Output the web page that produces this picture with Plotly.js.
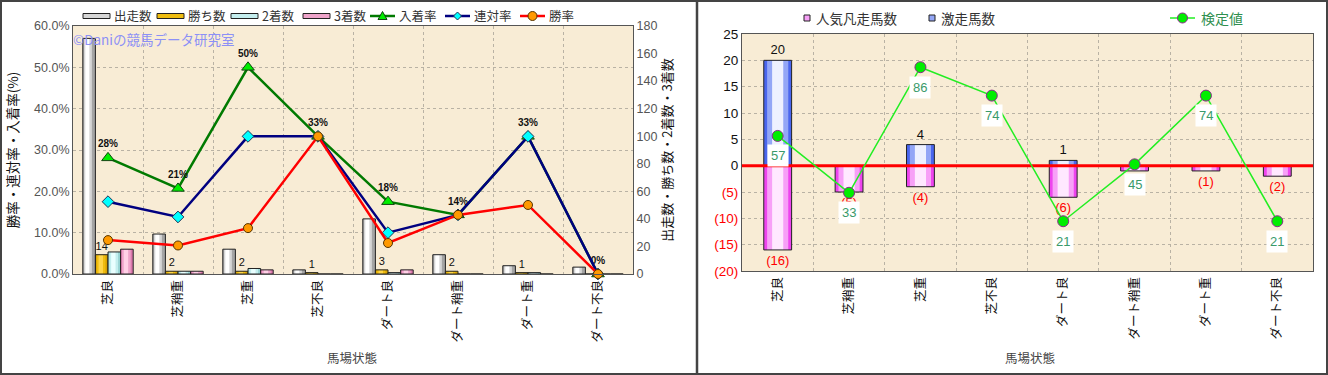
<!DOCTYPE html>
<html><head><meta charset="utf-8">
<script src="https://cdn.plot.ly/plotly-3.0.1.min.js"></script>
<style>html,body{margin:0;padding:0;background:#fff;} #chart{width:1328px;height:375px;}</style>
</head><body><div id="chart"></div>
<script>
// ---------- data ----------
const categories = ['芝良','芝稍重','芝重','芝不良','ダート良','ダート稍重','ダート重','ダート不良'];
const seriesNames = ['出走数','勝ち数','2着数','3着数','入着率','連対率','勝率'];
const starts  = [171, 29, 18, 3, 40, 14, 6, 5];
const wins    = [14, 2, 2, 1, 3, 2, 1, 0];
const seconds = [16, 2, 4, 0, 1, 0, 1, 0];
const thirds  = [18, 2, 3, 0, 3, 0, 0, 0];
const placeRate  = [28.1, 20.7, 50.0, 33.3, 17.5, 14.3, 33.3, 0];
const rentaiRate = [17.5, 13.8, 33.3, 33.3, 10.0, 14.3, 33.3, 0];
const winRate    = [8.2, 6.9, 11.1, 33.3, 7.5, 14.3, 16.7, 0];
const pctTicks   = [0, 10, 20, 30, 40, 50, 60];
const countTicks = [0, 20, 40, 60, 80, 100, 120, 140, 160, 180];

const rightNames   = ['人気凡走馬数','激走馬数','検定値'];
const upsetCounts  = [20, 0, 4, 0, 1, 0, 0, 0];
const failCounts   = [-16, -5, -4, 0, -6, -1, -1, -2];
const testValues   = [57, 33, 86, 74, 21, 45, 74, 21];
const rightTicks   = [-20, -15, -10, -5, 0, 5, 10, 15, 20, 25];

const leftXTitle = '馬場状態', rightXTitle = '馬場状態';
const leftYTitle = '勝率・連対率・入着率(%)';
const rightYTitle = '出走数・勝ち数・2着数・3着数';
const watermark = '©Daniの競馬データ研究室';

// ---------- helpers ----------
const W = 1328, H = 375;
const px = v => v / W;
const py = v => 1 - v / H;
const NUMF = 'Liberation Sans, Arial, "Noto Sans CJK JP", sans-serif';
const JF = '"Noto Sans CJK JP", "Liberation Sans", sans-serif';
const BG = '#f8ecd5';
const GRID = '#b9b2a4';

const traces = [];
function gradientBars(xs, values, o) {
  o.layers.forEach(L => {
    traces.push({type:'bar', x:xs, y:values, xaxis:o.xaxis, yaxis:o.yaxis,
      offset:o.offset + L[0]*o.width, width:(L[1]-L[0])*o.width,
      marker:{color:L[2], line:{width:0}}, hoverinfo:'skip', showlegend:false});
  });
  traces.push({type:'bar', name:o.name, x:xs, y:values, xaxis:o.xaxis, yaxis:o.yaxis,
    offset:o.offset, width:o.width,
    marker:{color:'rgba(0,0,0,0)', line:{color:'#222', width:1}},
    text:o.text || null, textposition:'outside', constraintext:'none', cliponaxis:false,
    textfont:o.textfont || {size:11}, showlegend:false});
}

// ---------- left chart bars (base axis y = counts) ----------
const BW = 0.18;
const grayL = [[0,1,'#a4a4a4'],[0.08,0.72,'#d6d6d6'],[0.2,0.52,'#ffffff']];
const goldL = [[0,1,'#d8a200'],[0.1,0.8,'#efbd10'],[0.25,0.6,'#ffd64a']];
const cyanL = [[0,1,'#98d4d4'],[0.1,0.8,'#c4eeee'],[0.25,0.6,'#eaffff']];
const pinkL = [[0,1,'#dc78ac'],[0.1,0.8,'#eea4ca'],[0.25,0.6,'#ffd0e6']];
gradientBars(categories, starts, {name:seriesNames[0], xaxis:'x', yaxis:'y', offset:-2*BW, width:BW, layers:grayL});
gradientBars(categories, wins, {name:seriesNames[1], xaxis:'x', yaxis:'y', offset:-BW, width:BW, layers:goldL,
  text:wins.map(v => v > 0 ? String(v) : ''), textfont:{size:11, family:NUMF, color:'#111'}});
gradientBars(categories, seconds, {name:seriesNames[2], xaxis:'x', yaxis:'y', offset:0, width:BW, layers:cyanL});
gradientBars(categories, thirds, {name:seriesNames[3], xaxis:'x', yaxis:'y', offset:BW, width:BW, layers:pinkL});

// ---------- left chart lines (overlay axis y2 = percent) ----------
traces.push({type:'scatter', mode:'lines+markers+text', name:seriesNames[4], x:categories, y:placeRate,
  xaxis:'x', yaxis:'y2', line:{color:'#007a00', width:2.5},
  marker:{symbol:'triangle-up', size:11, color:'#00ee00', line:{color:'#114411', width:1}},
  text:placeRate.map(v => '<b>' + Math.round(v) + '%</b>'), textposition:'top center',
  textfont:{size:10, family:NUMF, color:'#111'}, cliponaxis:false, showlegend:false});
traces.push({type:'scatter', mode:'lines+markers', name:seriesNames[5], x:categories, y:rentaiRate,
  xaxis:'x', yaxis:'y2', line:{color:'#000080', width:2.5},
  marker:{symbol:'diamond', size:9, color:'#00ffff', line:{color:'#223355', width:1}}, cliponaxis:false, showlegend:false});
traces.push({type:'scatter', mode:'lines+markers', name:seriesNames[6], x:categories, y:winRate,
  xaxis:'x', yaxis:'y2', line:{color:'#ff0000', width:2.5},
  marker:{symbol:'circle', size:9, color:'#ff9900', line:{color:'#553300', width:1}}, cliponaxis:false, showlegend:false});

// ---------- right chart ----------
const idx = categories.map((c, i) => i);
const RW = 0.39;
const blueL = [[0,1,'#4a66ee'],[0.12,0.88,'#93a6f6'],[0.3,0.7,'#eef1ff']];
const magL  = [[0,1,'#ee44ee'],[0.12,0.88,'#f7a0f7'],[0.3,0.7,'#ffe8ff']];
gradientBars(idx, failCounts, {name:rightNames[0], xaxis:'x2', yaxis:'y3', offset:-RW/2, width:RW, layers:magL,
  text:failCounts.map(v => v < 0 ? '(' + Math.abs(v) + ')' : ''), textfont:{size:13, family:NUMF, color:'#ff0000'}});
gradientBars(idx, upsetCounts, {name:rightNames[1], xaxis:'x2', yaxis:'y3', offset:-RW/2, width:RW, layers:blueL,
  text:upsetCounts.map(v => v > 0 ? String(v) : ''), textfont:{size:13, family:NUMF, color:'#111'}});
// zero reference line (above bars, below the 検定値 line)
traces.push({type:'scatter', mode:'lines', x:[-0.5, categories.length - 0.5], y:[0, 0], xaxis:'x2', yaxis:'y3',
  line:{color:'#ff0000', width:3}, hoverinfo:'skip', cliponaxis:true, showlegend:false});
traces.push({type:'scatter', mode:'lines+markers', name:rightNames[2], x:idx, y:testValues, xaxis:'x2', yaxis:'y4',
  line:{color:'#22ee22', width:1.5},
  marker:{symbol:'circle', size:11, color:'#00ee00', line:{color:'#8a2a8a', width:1}}, cliponaxis:false, showlegend:false});

// ---------- annotations ----------
const annotations = [];
testValues.forEach((v, i) => annotations.push({xref:'x2', yref:'y4', x:i, y:v, text:String(v), showarrow:false,
  yshift:-20, bgcolor:'#ffffff', borderpad:3, font:{size:13, family:NUMF, color:'#3a9a6a'}}));
annotations.push({xref:'paper', yref:'paper', x:px(71), y:py(39), xanchor:'left', yanchor:'middle',
  text:watermark, showarrow:false, font:{size:13.5, family:JF, color:'#8c90f6'}});
annotations.push({xref:'paper', yref:'paper', x:px(353), y:py(357), xanchor:'center', yanchor:'middle',
  text:leftXTitle, showarrow:false, font:{size:12.5, family:JF, color:'#444'}});
annotations.push({xref:'paper', yref:'paper', x:px(1030), y:py(357), xanchor:'center', yanchor:'middle',
  text:rightXTitle, showarrow:false, font:{size:12.5, family:JF, color:'#444'}});

// ---------- manual legends ----------
const shapes = [];
const legendText = (x, y, t, color, size) => annotations.push({xref:'paper', yref:'paper', x:px(x), y:py(y),
  xanchor:'left', yanchor:'middle', text:t, showarrow:false, font:{size:size || 12.5, family:JF, color:color || '#333'}});
const rectPx = (x0, y0, x1, y1, fill, line) => shapes.push({type:'rect', xref:'paper', yref:'paper',
  x0:px(x0), x1:px(x1), y0:py(y1), y1:py(y0), fillcolor:fill, line:{color:line || '#222', width:1}});
const linePx = (x0, y0, x1, y1, color, w) => shapes.push({type:'line', xref:'paper', yref:'paper',
  x0:px(x0), x1:px(x1), y0:py(y0), y1:py(y1), line:{color:color, width:w}});
const pathPx = (pts, fill, line) => shapes.push({type:'path', xref:'paper', yref:'paper',
  path:'M' + pts.map(p => px(p[0]) + ',' + py(p[1])).join(' L') + ' Z', fillcolor:fill, line:{color:line, width:1}});
const circlePx = (cx, cy, r, fill, line) => shapes.push({type:'circle', xref:'paper', yref:'paper',
  x0:px(cx - r), x1:px(cx + r), y0:py(cy + r), y1:py(cy - r), fillcolor:fill, line:{color:line, width:1}});

const LY = 16;
const barLeg = [[83, grayL], [157, goldL], [231, cyanL], [303, pinkL]];
barLeg.forEach((b, i) => {
  rectPx(b[0], LY - 2.5, b[0] + 27, LY + 2.5, b[1][1][2], '#222');
  legendText(b[0] + 29, LY, seriesNames[i]);
});
linePx(370, LY, 395, LY, '#007a00', 2.5);
pathPx([[382.5, LY - 4.5], [387, LY + 3.5], [378, LY + 3.5]], '#00ee00', '#114411');
legendText(397, LY, seriesNames[4]);
linePx(445, LY, 470, LY, '#000080', 2.5);
pathPx([[457.5, LY - 4], [461.5, LY], [457.5, LY + 4], [453.5, LY]], '#00ffff', '#223355');
legendText(472, LY, seriesNames[5]);
linePx(520, LY, 545, LY, '#ff0000', 2.5);
circlePx(532.5, LY, 4.5, '#ff9900', '#553300');
legendText(547, LY, seriesNames[6]);

const RY = 18;
rectPx(804, RY - 3, 810, RY + 3, '#f7a0f7', '#222');
legendText(814, RY, rightNames[0], '#333', 13.5);
rectPx(929, RY - 3, 935, RY + 3, '#93a6f6', '#222');
legendText(939, RY, rightNames[1], '#333', 13.5);
linePx(1170, RY, 1195, RY, '#22ee22', 1.5);
circlePx(1182.5, RY, 5, '#00ee00', '#8a2a8a');
legendText(1199, RY, rightNames[2], '#2f8f4f', 14);

// frames
shapes.push({type:'rect', xref:'paper', yref:'paper', x0:px(1), x1:px(1327), y0:py(374), y1:py(1),
  line:{color:'#444', width:2}, fillcolor:'rgba(0,0,0,0)'});
linePx(697, 0, 697, 375, '#444', 2.5);

// ---------- axes ----------
const pctTickText = pctTicks.map(v => v.toFixed(1) + '%');
const rightTickText = rightTicks.map(v => v < 0 ? '<span style="color:#ff0000">(' + Math.abs(v) + ')</span>' : String(v));

const layout = {
  width: W, height: H,
  margin: {l:0, r:0, t:0, b:0},
  paper_bgcolor: '#ffffff', plot_bgcolor: BG,
  barmode: 'overlay', showlegend: false,
  font: {family: JF, color: '#333'},
  xaxis: {domain:[px(73), px(633)], type:'category', anchor:'y', tickson:'boundaries',
    showgrid:true, gridcolor:GRID, griddash:'dot', gridwidth:1,
    showline:true, linecolor:'#555', linewidth:1, mirror:true, ticks:'',
    tickangle:-90, tickfont:{size:12.5, family:JF, color:'#111'}, fixedrange:true},
  yaxis: {domain:[py(274), py(26)], range:[0,180], tickmode:'array', tickvals:countTicks, side:'right', anchor:'x',
    showgrid:false, zeroline:false, showline:true, linecolor:'#555', ticks:'',
    tickfont:{size:12.5, family:NUMF, color:'#555'},
    title:{text:rightYTitle, font:{size:13, family:JF, color:'#111'}, standoff:6}},
  yaxis2: {overlaying:'y', side:'left', anchor:'x', range:[0,60], tickmode:'array', tickvals:pctTicks,
    ticktext:pctTickText, showgrid:true, gridcolor:GRID, griddash:'dot', zeroline:false,
    showline:true, linecolor:'#555', ticks:'',
    tickfont:{size:12.5, family:NUMF, color:'#555'},
    title:{text:leftYTitle, font:{size:13.5, family:JF, color:'#111'}, standoff:12}},
  xaxis2: {domain:[px(742), px(1313)], anchor:'y3', range:[-0.5, categories.length - 0.5],
    tickmode:'array', tickvals:idx, ticktext:categories, showgrid:false, zeroline:false,
    minor:{tickmode:'linear', tick0:0.5, dtick:1, showgrid:true, gridcolor:GRID, griddash:'dot', ticks:''},
    showline:true, linecolor:'#555', mirror:true, ticks:'',
    tickangle:-90, tickfont:{size:12.5, family:JF, color:'#111'}},
  yaxis3: {domain:[py(271), py(34)], anchor:'x2', range:[-20,25], tickmode:'array', tickvals:rightTicks,
    ticktext:rightTickText, showgrid:true, gridcolor:GRID, griddash:'dot', zeroline:false,
    showline:true, linecolor:'#555', mirror:true, ticks:'',
    tickfont:{size:13.5, family:NUMF, color:'#111'}},
  yaxis4: {overlaying:'y3', anchor:'x2', range:[0,100], visible:false},
  annotations: annotations,
  shapes: shapes
};

Plotly.newPlot('chart', traces, layout, {displayModeBar:false, staticPlot:true});
</script></body></html>
